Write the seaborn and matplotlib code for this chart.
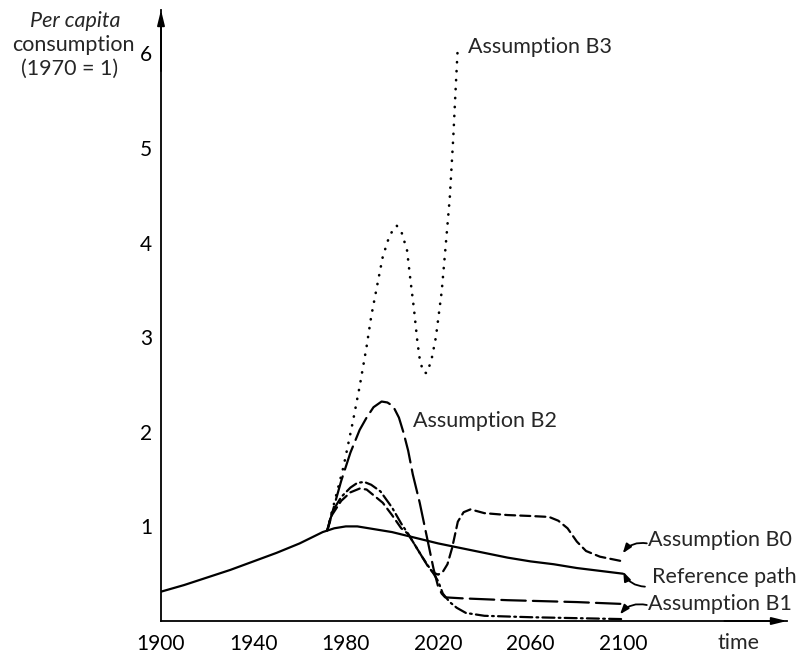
import matplotlib
matplotlib.use("Agg")
import matplotlib.pyplot as plt
import seaborn as sns
import pandas as pd

# ---------------- data ----------------
ref_years = [1900, 1910, 1920, 1930, 1940, 1950, 1955, 1960, 1965, 1970, 1975, 1980, 1985,
             1990, 2000, 2010, 2020, 2030, 2040, 2050, 2060, 2070, 2080, 2090, 2100]
ref_vals = [0.31, 0.38, 0.46, 0.54, 0.63, 0.72, 0.77, 0.82, 0.88, 0.94, 0.98, 1.00, 1.00,
            0.98, 0.94, 0.88, 0.82, 0.77, 0.72, 0.67, 0.63, 0.60, 0.56, 0.53, 0.50]

b0_years = [1972, 1974, 1978, 1982, 1986, 1989, 1992, 1996, 2000, 2004, 2007, 2010,
            2013, 2016, 2018, 2020, 2022, 2024, 2026, 2028.5, 2031, 2034, 2040, 2050,
            2060, 2068, 2072, 2076, 2080, 2084, 2090, 2100]
b0_vals = [0.96, 1.12, 1.27, 1.36, 1.40, 1.39, 1.33, 1.25, 1.12, 0.98, 0.92, 0.80,
           0.68, 0.56, 0.51, 0.49, 0.52, 0.60, 0.77, 1.05, 1.15, 1.18, 1.14, 1.12,
           1.11, 1.10, 1.06, 0.98, 0.84, 0.74, 0.68, 0.63]

b1_years = [1972, 1974, 1978, 1982, 1985, 1988, 1991, 1995, 2000, 2004, 2007, 2010,
            2013, 2016, 2018, 2020, 2022, 2025, 2028, 2032, 2040, 2060, 2080, 2100]
b1_vals = [0.96, 1.15, 1.31, 1.41, 1.46, 1.47, 1.44, 1.37, 1.20, 1.03, 0.92, 0.80,
           0.68, 0.57, 0.50, 0.42, 0.29, 0.20, 0.14, 0.085, 0.055, 0.04, 0.03, 0.02]

b2_years = [1972, 1975, 1978, 1982, 1986, 1989, 1992, 1995.5, 1998, 2000.5, 2003, 2005,
            2007, 2009, 2012, 2015, 2018, 2020, 2021.5, 2023, 2030, 2050, 2080, 2100]
b2_vals = [0.96, 1.22, 1.48, 1.78, 2.02, 2.15, 2.26, 2.32, 2.31, 2.27, 2.15, 1.99,
           1.80, 1.55, 1.25, 0.90, 0.55, 0.36, 0.29, 0.25, 0.24, 0.22, 0.20, 0.18]

b3_years = [1972, 1975, 1979, 1983, 1986, 1989, 1991, 1994, 1996, 1999, 2002, 2004,
            2006.5, 2008, 2009.5, 2011, 2012, 2013.5, 2015, 2017, 2019, 2021.5, 2023,
            2025, 2026.5, 2027.5, 2028.5]
b3_vals = [0.96, 1.25, 1.63, 2.10, 2.48, 2.90, 3.22, 3.60, 3.85, 4.08, 4.18, 4.12,
           3.92, 3.60, 3.30, 2.95, 2.77, 2.63, 2.62, 2.75, 3.00, 3.48, 3.90,
           4.47, 5.10, 5.60, 6.08]

x_ticks = [1900, 1940, 1980, 2020, 2060, 2100]
y_ticks = [1, 2, 3, 4, 5, 6]

# ---------------- style ----------------
sns.set_style("white")
plt.rcParams["font.family"] = ["Lato", "DejaVu Sans"]

W, H = 803, 653
fig = plt.figure(figsize=(W / 100, H / 100), dpi=100)
ax = fig.add_axes([161 / W, (H - 621) / H, (787 - 161) / W, 611 / H])

lw = 1.6
series = [
    (ref_years, ref_vals, "-", lw),
    (b0_years, b0_vals, (0, (4.5, 2.3)), lw),
    (b1_years, b1_vals, (0, (5.4, 1.9, 0.8, 1.9)), lw),
    (b2_years, b2_vals, (0, (11, 3.2)), lw),
    (b3_years, b3_vals, (0, (0.1, 3.3)), 1.9),
]
for xs, ys, ls, w in series:
    df = pd.DataFrame({"year": xs, "value": ys})
    sns.lineplot(data=df, x="year", y="value", ax=ax, color="black",
                 linewidth=w, linestyle=ls, dash_capstyle="round", sort=False)

ax.set_xlim(1900, 1900 + (787 - 161) / 2.31)
ax.set_ylim(0, 611 / 94.6)
ax.set_xlabel("")
ax.set_ylabel("")

for s in ["top", "right"]:
    ax.spines[s].set_visible(False)
for s in ["left", "bottom"]:
    ax.spines[s].set_color("black")
    ax.spines[s].set_linewidth(1.3)

ax.set_xticks(x_ticks)
ax.set_xticklabels([str(t) for t in x_ticks])
ax.set_yticks(y_ticks)
ax.set_yticklabels([str(t) for t in y_ticks])
ax.tick_params(axis="both", direction="inout", length=7, width=1.2,
               colors="black", labelsize=15)
ax.tick_params(axis="x", pad=6)
ax.tick_params(axis="y", pad=3)

# axis arrowheads
arrow_kw = dict(arrowstyle="-|>,head_length=0.9,head_width=0.22", color="black",
                lw=1.3, shrinkA=0, shrinkB=0)
ax.annotate("", xy=(1, 0), xytext=(0.9, 0), xycoords="axes fraction",
            arrowprops=arrow_kw, annotation_clip=False)
ax.annotate("", xy=(0, 1), xytext=(0, 0.9), xycoords="axes fraction",
            arrowprops=arrow_kw, annotation_clip=False)

fs = 15.5
ax.text(2032.9, 6.07, "Assumption B3", fontsize=fs, ha="left", va="center")
ax.text(2009.1, 2.11, "Assumption B2", fontsize=fs, ha="left", va="center")
ax.text(2110.8, 0.856, "Assumption B0", fontsize=fs, ha="left", va="center", clip_on=False)
ax.text(2112.6, 0.465, "Reference path", fontsize=fs, ha="left", va="center", clip_on=False)
ax.text(2110.8, 0.18, "Assumption B1", fontsize=fs, ha="left", va="center", clip_on=False)
ax.text(2149.8, -0.23, "time", fontsize=fs, ha="center", va="center", clip_on=False)

lab_arrow = dict(arrowstyle="-|>,head_length=0.55,head_width=0.2", color="black",
                 lw=1.3, shrinkA=0, shrinkB=0)
ax.annotate("", xy=(2099.9, 0.716), xytext=(2110.3, 0.821),
            arrowprops=dict(connectionstyle="arc3,rad=0.3", **lab_arrow),
            annotation_clip=False)
ax.annotate("", xy=(2100.1, 0.521), xytext=(2109.5, 0.363),
            arrowprops=dict(connectionstyle="arc3,rad=-0.3", **lab_arrow),
            annotation_clip=False)
ax.annotate("", xy=(2098.7, 0.071), xytext=(2110.3, 0.169),
            arrowprops=dict(connectionstyle="arc3,rad=0.3", **lab_arrow),
            annotation_clip=False)

# y-axis title
fig.text(75 / W, 1 - 21 / H, "Per capita", fontsize=fs, style="italic",
         ha="center", va="center")
fig.text(73 / W, 1 - 45 / H, "consumption", fontsize=fs, ha="center", va="center")
fig.text(70 / W, 1 - 69 / H, "(1970 = 1)", fontsize=fs, ha="center", va="center")

fig.savefig("out.png", dpi=100, facecolor="white")
